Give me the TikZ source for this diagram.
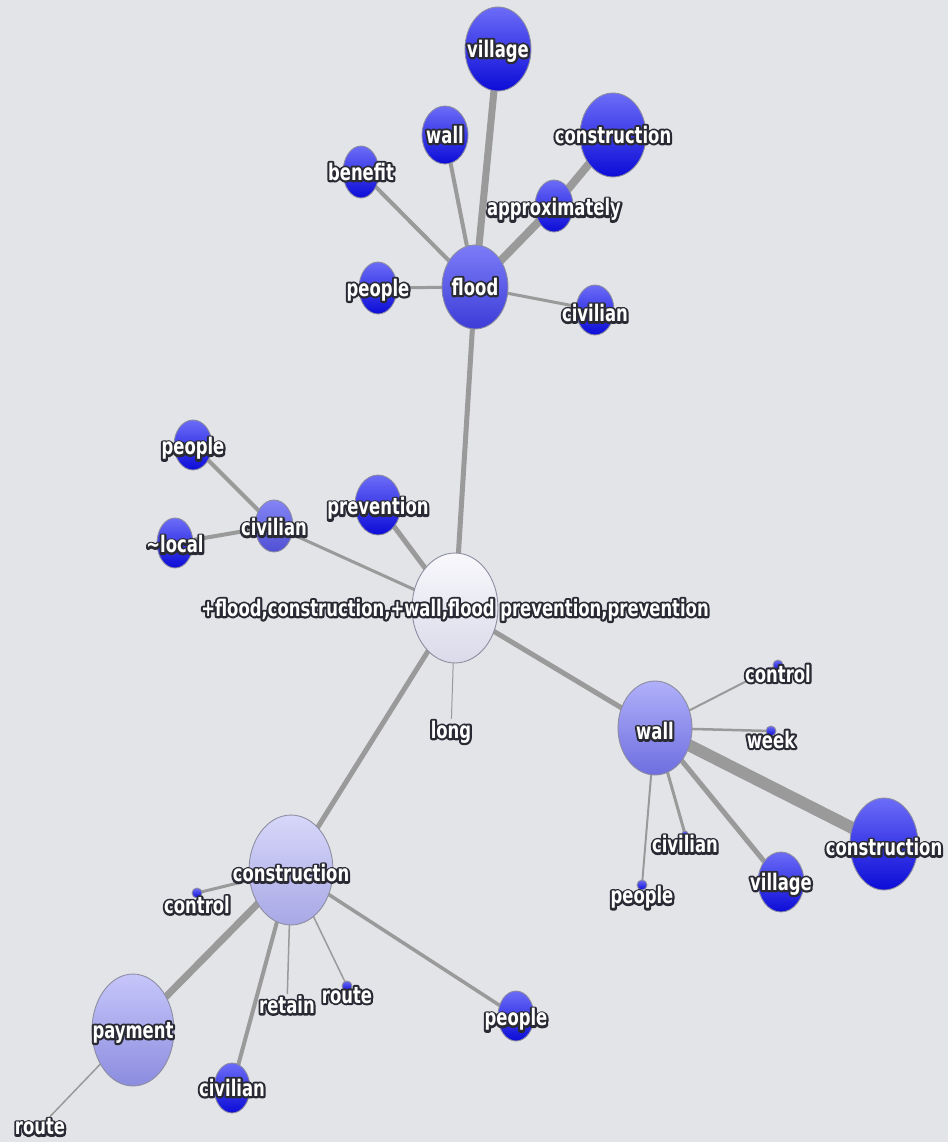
\documentclass[tikz,border=0pt]{standalone}
\usepackage{fontspec}
\usetikzlibrary{shapes.geometric}
\newfontfamily\termfont{DejaVu Sans Condensed Bold}[FakeStretch=0.8]
\newfontfamily\halofont{DejaVu Sans Condensed Bold}[FakeStretch=0.8, FakeBold=18]
\definecolor{canvas}{HTML}{E3E4E8}
\definecolor{halo}{HTML}{2A2A34}
\definecolor{linkgray}{HTML}{9A9A9A}
\definecolor{rimgray}{HTML}{8C8CA0}
\definecolor{deeptop}{HTML}{6C6CF8}
\definecolor{deepbot}{HTML}{0C0CD8}
\definecolor{floodtop}{HTML}{7C7CF8}
\definecolor{floodbot}{HTML}{3C3CD8}
\definecolor{civtop}{HTML}{8484F6}
\definecolor{civbot}{HTML}{5050D4}
\definecolor{walltop}{HTML}{B0B0FA}
\definecolor{wallbot}{HTML}{6E6EE0}
\definecolor{paytop}{HTML}{C6C6FA}
\definecolor{paybot}{HTML}{8C8CE0}
\definecolor{constop}{HTML}{D7D7FA}
\definecolor{consbot}{HTML}{A8A8E6}
\definecolor{hubtop}{HTML}{F8F8FC}
\definecolor{hubbot}{HTML}{DADAEA}
\newcommand\halotext[1]{\rlap{\halofont\color{halo}#1}#1}
\newcommand\tx[2][0]{\raisebox{\dimexpr-0.36em-#1pt\relax}[0pt][0pt]{\makebox[0pt]{\halotext{#2}}}}
\pgfdeclarelayer{canvas}
\pgfdeclarelayer{links}
\pgfsetlayers{canvas,links,main}

\begin{document}
\begin{tikzpicture}[x=0.02cm, y=-0.02cm,
  term/.style={ellipse, draw=rimgray, line width=0.5pt, line join=round, inner sep=0pt, text=white, font=\termfont\fontsize{13}{15}\selectfont},
  rad/.style 2 args={minimum width=#1*0.04cm, minimum height=#2*0.04cm},
  deep/.style={term, top color=deeptop, bottom color=deepbot},
  shade/.style={term, top color=#1top, bottom color=#1bot},
  word/.style={inner sep=1pt, line join=round, text=white, font=\termfont\fontsize{13}{15}\selectfont},
  link/.style={draw=linkgray, line width=#1*0.57pt}
]
\begin{pgfonlayer}{canvas}
\fill[canvas] (0,0) rectangle (948,1142);
\end{pgfonlayer}
\useasboundingbox (0,0) rectangle (948,1142);

% query node
\node[shade=hub, rad={43}{55}] (hub) at (455,608) {\tx{+flood,construction,+wall,flood prevention,prevention}};

% flood cluster
\node[shade=flood, rad={33}{42}] (flood)   at (475,287) {\tx{flood}};
\node[deep, rad={33}{42}] (villageT) at (498,49)  {\tx{village}};
\node[deep, rad={23}{29}] (wallT)    at (445,135) {\tx{wall}};
\node[deep, rad={18}{26}] (benefit)  at (361,172) {\tx{benefit}};
\node[deep, rad={33}{42}] (consT)    at (613,135) {\tx{construction}};
\node[deep, rad={19}{26}] (approx)   at (554,206) {\tx[1]{approximately}};
\node[deep, rad={19}{26}] (peopleT)  at (378,288) {\tx{people}};
\node[deep, rad={19}{25}] (civT)     at (595,310) {\tx[2]{civilian}};

% left cluster
\node[deep, rad={23}{30}] (prevent)  at (378,505) {\tx[1]{prevention}};
\node[shade=civ, rad={19}{26}] (civL) at (274,526) {\tx[1]{civilian}};
\node[deep, rad={19}{25}] (peopleL)  at (193,445) {\tx[1]{people}};
\node[deep, rad={18}{25}] (local)    at (175,543) {\tx[1]{\textasciitilde local}};
\node[word] (long) at (451,732) {\halotext{long}};

% wall cluster
\node[shade=wall, rad={37}{47}] (wallR) at (655,728) {\tx[2]{wall}};
\node[deep, rad={5}{5}]   (ctrlR)    at (778,665) {\tx[5]{control}};
\node[deep, rad={5}{5}]   (week)     at (771,731) {\tx[5]{week}};
\node[deep, rad={34}{46}] (consR)    at (884,844) {\tx[2]{construction}};
\node[deep, rad={23}{30}] (villageR) at (781,882) {\tx{village}};
\node[deep, rad={3}{3}]   (civR)     at (685,834) {\tx[6]{civilian}};
\node[deep, rad={5}{5}]   (peopleR)  at (642,885) {\tx[6]{people}};

% construction cluster
\node[shade=cons, rad={42}{55}] (consB) at (291,870) {\tx[2]{construction}};
\node[deep, rad={5}{5}]   (ctrlB)    at (197,893) {\tx[7]{control}};
\node[shade=pay, rad={41}{56}] (payment) at (133,1030) {\tx{payment}};
\node[deep, rad={18}{25}] (civB)     at (232,1088) {\tx{civilian}};
\node[word] (retain) at (287,1005) {\halotext{retain}};
\node[deep, rad={5}{5}]   (routeB)   at (347,986) {\tx[5]{route}};
\node[deep, rad={18}{25}] (peopleB)  at (516,1016) {\tx[1]{people}};
\node[word] (routeP) at (40,1127) {\halotext{route}};

\begin{pgfonlayer}{links}
\draw[link=5] (hub.center) -- (flood.center);
\draw[link=7] (flood.center) -- (villageT.center);
\draw[link=4] (flood.center) -- (wallT.center);
\draw[link=4] (flood.center) -- (benefit.center);
\draw[link=8] (flood.center) -- (approx.center);
\draw[link=8] (approx.center) -- (consT.center);
\draw[link=3] (flood.center) -- (peopleT.center);
\draw[link=3] (flood.center) -- (civT.center);

\draw[link=5] (hub.center) -- (prevent.center);
\draw[link=3] (hub.center) -- (civL.center);
\draw[link=4] (civL.center) -- (peopleL.center);
\draw[link=4] (civL.center) -- (local.center);
\draw[link=1] (hub.center) -- (long);

\draw[link=5] (hub.center) -- (wallR.center);
\draw[link=2] (wallR.center) -- (ctrlR.center);
\draw[link=2.5] (wallR.center) -- (week.center);
\draw[link=12] (wallR.center) -- (consR.center);
\draw[link=5] (wallR.center) -- (villageR.center);
\draw[link=3] (wallR.center) -- (civR.center);
\draw[link=2] (wallR.center) -- (peopleR.center);

\draw[link=5] (hub.center) -- (consB.center);
\draw[link=3] (consB.center) -- (ctrlB.center);
\draw[link=7] (consB.center) -- (payment.center);
\draw[link=4] (consB.center) -- (civB.center);
\draw[link=1.5] (consB.center) -- (retain);
\draw[link=1.5] (consB.center) -- (routeB.center);
\draw[link=3.5] (consB.center) -- (peopleB.center);
\draw[link=1.5] (payment.center) -- (routeP);
\end{pgfonlayer}
\end{tikzpicture}
\end{document}
